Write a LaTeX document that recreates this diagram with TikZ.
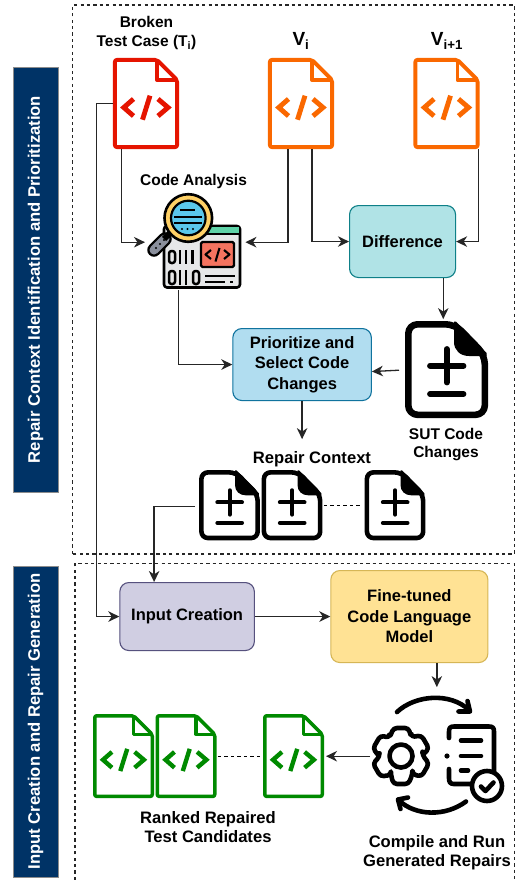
\documentclass[tikz,border=0pt]{standalone}
\usepackage{fontspec}
\setmainfont{Liberation Sans}
\usetikzlibrary{arrows.meta}
\definecolor{cred}{HTML}{E51400}
\definecolor{corange}{HTML}{FA6800}
\definecolor{cgreen}{HTML}{008A00}
\definecolor{cnavy}{HTML}{003366}
\definecolor{cdifff}{HTML}{B0E3E6}
\definecolor{cdiffd}{HTML}{0E8088}
\definecolor{cprif}{HTML}{B1DDF0}
\definecolor{cprid}{HTML}{10739E}
\definecolor{cinf}{HTML}{D0CEE2}
\definecolor{cind}{HTML}{56517E}
\definecolor{cllmf}{HTML}{FFE294}
\definecolor{cllmd}{HTML}{D6B656}
\definecolor{ilens}{HTML}{5BC8EC}
\definecolor{iring}{HTML}{FFD166}
\definecolor{ipanel}{HTML}{F4735F}
\definecolor{igreen}{HTML}{5FD3A8}
\definecolor{ihandle}{HTML}{8A8F9C}
\definecolor{iwin}{HTML}{E6E7E8}
\tikzset{
  conn/.style={line width=1.3pt,draw=black!85,-{Stealth[length=11pt,width=10.5pt,inset=3.4pt]}},
  dashconn/.style={line width=1.2pt,draw=black,dash pattern=on 3.5pt off 3pt},
  frame/.style={line width=1.2pt,draw=black!85,dash pattern=on 3.2pt off 3.2pt},
  bar/.style={draw=black!45,line width=0.6pt,fill=cnavy,text=white,font=\fontsize{16.65}{18}\selectfont\bfseries,rotate=90,inner sep=0pt,minimum width=#1,minimum height=45pt},
  procbox/.style n args={4}{draw=#2,fill=#1,line width=1.1pt,rounded corners=9pt,minimum width=#3,minimum height=#4,align=center,inner sep=0pt,anchor=north west,font=\fontsize{16.5}{20.5}\selectfont\bfseries},
  lbl/.style={align=center,inner sep=0pt,font=\fontsize{15.5}{18.5}\selectfont\bfseries},
  lblbig/.style={align=center,inner sep=0pt,font=\fontsize{16.6}{19.5}\selectfont\bfseries},
  vlbl/.style={inner sep=0pt,font=\fontsize{19}{22}\selectfont\bfseries},
}
% name, left, top, scale, colour, line width
\newcommand{\codedoc}[6]{%
  \node[anchor=north west,inner sep=0pt,minimum width={#4*66pt},minimum height={#4*91pt}] (#1) at (#2,#3) {};
  \begin{scope}[shift={(#2,#3)},scale=#4,draw=#5,line width=#6pt]
    \draw[rounded corners=2pt,line join=round] (1.9,1.9)--(44,1.9)--(64.1,22)--(64.1,89.1)--(1.9,89.1)--cycle;
    \draw[line join=round] (44,1.9)--(44,22)--(64.1,22);
    \draw[line width=#6pt*1.25] (20.5,41)--(10.8,49.5)--(20.5,58);
    \draw[line width=#6pt*1.25] (37,37.7)--(29.5,61.7);
    \draw[line width=#6pt*1.25] (45,41)--(55,49.5)--(45,58);
  \end{scope}}
% name, left, top, xscale, yscale, line width
\newcommand{\diffdoc}[6]{%
  \node[anchor=north west,inner sep=0pt,minimum width={#4*83pt},minimum height={#5*97pt}] (#1) at (#2,#3) {};
  \begin{scope}[shift={(#2,#3)},xscale=#4,yscale=#5]
    \draw[line width=#6pt,rounded corners=#6pt*1.4,line join=round] (3.3,3.3)--(50,3.3)--(79.8,34)--(79.8,93.8)--(3.3,93.8)--cycle;
    \fill (49,0.5)--(51,0.5)--(81.5,32)--(81.5,35)--(64,35)..controls (55,35) and (49,29)..(49,21)--cycle;
    \draw[line width=#6pt*0.88,line cap=round] (25,44.7)--(58.5,44.7) (41.7,28)--(41.7,61.5) (25,73)--(58.5,73);
  \end{scope}}
\begin{document}
\begin{tikzpicture}[x=1pt,y=-1pt]
\useasboundingbox (0,0) rectangle (526,880);
\fill[white] (0,0) rectangle (526,880);

% frames
\draw[frame] (72.7,554)--(72.7,5)--(514.3,5)--(514.3,554)--cycle;
\draw[frame] (75,880)--(75,563.3)--(514.3,563.3)--(514.3,880);

% side bars
\node[bar=425pt] (barA) at (35.5,279.5) {Repair Context Identification and Prioritization};
\node[bar=311pt] (barB) at (35.5,721.5) {Input Creation and Repair Generation};

% source documents
\codedoc{broken}{113}{58}{1}{cred}{3.9}
\codedoc{vi}{268}{58}{1}{corange}{3.9}
\codedoc{vnext}{413.5}{58}{1}{corange}{3.9}
\node[lbl] (lbroken) at (146.5,33) {Broken\\Test Case (T\textsubscript{i})};
\node[vlbl] (lvi) at (301,41) {V\textsubscript{i}};
\node[vlbl] (lvnext) at (447,41) {V\textsubscript{i+1}};

% code analysis icon
\node[anchor=north west,inner sep=0pt,minimum width=100pt,minimum height=96pt] (analysis) at (145,194) {};
\node[lbl] (lanalysis) at (193.5,181.5) {Code Analysis};
\begin{scope}[line join=round]
  \draw[line width=2.6pt,fill=iwin,rounded corners=3pt] (164,226)--(240,226)--(240,287.5)--(164,287.5)--cycle;
  \fill[igreen] (205,227.3)--(238.7,227.3)--(238.7,233.5)--(205,233.5)--cycle;
  \draw[line width=1.8pt] (205,234.2)--(240,234.2);
  \draw[line width=2.4pt,fill=ipanel,rounded corners=1.5pt] (201,242)--(234,242)--(234,267)--(201,267)--cycle;
  \draw[line width=2.1pt] (211,250)--(205.5,254.5)--(211,259);
  \draw[line width=2.1pt] (219.5,248)--(215.5,261.5);
  \draw[line width=2.1pt] (224,250)--(229.5,254.5)--(224,259);
  \draw[line width=2.5pt,rounded corners=2.5pt] (169,251)--(175,251)--(175,263)--(169,263)--cycle;
  \draw[line width=2.5pt] (180,250)--(180,264) (186,250)--(186,264) (192.5,250)--(192.5,264);
  \draw[line width=2.5pt,rounded corners=2.5pt] (169,271)--(175,271)--(175,284)--(169,284)--cycle;
  \draw[line width=2.5pt] (180,270)--(180,284.5) (186,270)--(186,284.5);
  \draw[line width=2.5pt,rounded corners=2.5pt] (193,271)--(199,271)--(199,284)--(193,284)--cycle;
  \draw[line width=2pt] (205,275.5)--(235,275.5) (205,282)--(225,282) (230,282)--(233,282);
  \draw[line width=13.5pt,line cap=round] (154,250)--(165,239);
  \draw[line width=9pt,line cap=round,draw=ihandle] (154,250)--(165,239);
  \draw[line width=6pt] (164,239)--(173,230);
  \fill[black] (156,248) circle[radius=1.2pt] (160,244) circle[radius=1.2pt] (164,240) circle[radius=1.2pt];
  \draw[line width=2.6pt,fill=iring] (188.3,218) circle[radius=23.8pt];
  \draw[line width=2.2pt,fill=ilens] (188.3,218) circle[radius=17.3pt];
  \draw[line width=2pt] (180,210.2)--(195,210.2) (174,216.7)--(202,216.7) (174,222.7)--(202,222.7);
  \fill[black] (182,229) circle[radius=1.2pt] (187.5,229) circle[radius=1.2pt] (193,229) circle[radius=1.2pt];
\end{scope}

% process boxes
\node[procbox={cdifff}{cdiffd}{106pt}{72pt}] (difference) at (349,205) {Difference};
\node[procbox={cprif}{cprid}{138.5pt}{72pt}] (prioritize) at (232.3,328) {Prioritize and\\Select Code\\Changes};
\node[procbox={cinf}{cind}{134.5pt}{68pt}] (input) at (119.3,582) {Input Creation};
\node[procbox={cllmf}{cllmd}{157pt}{92pt}] (llm) at (330.3,570) {Fine-tuned\\Code Language\\Model};

% change documents
\node[anchor=north west,inner sep=0pt,minimum width=89pt,minimum height=100pt] (sut) at (399,318) {};
\diffdoc{sutdoc}{405}{321}{1}{1}{6.6}
\node[lbl] (lsut) at (446,444.5) {SUT Code\\Changes};
\node[lblbig] (lrepair) at (312,459.5) {Repair Context};
\diffdoc{rc1}{199}{470}{0.735}{0.725}{4.6}
\diffdoc{rc2}{261.5}{470}{0.735}{0.725}{4.6}
\diffdoc{rc3}{364.5}{470}{0.735}{0.725}{4.6}

% ranked candidates
\codedoc{gc1}{93}{714}{0.925}{cgreen}{3.5}
\codedoc{gc2}{155.5}{714}{0.925}{cgreen}{3.5}
\codedoc{gc3}{263}{714}{0.925}{cgreen}{3.5}
\node[lblbig] (lranked) at (208,827) {Ranked Repaired\\Test Candidates};

% compile and run icon
\node[anchor=north west,inner sep=0pt,minimum width=135pt,minimum height=120pt] (compile) at (370,696) {};
\node[lblbig] (lcompile) at (437,852.5) {Compile and Run\\Generated Repairs};
\begin{scope}[line width=4.6pt,line cap=round,line join=round]
  \draw (397,712) .. controls (415,695) and (450,692) .. (469,710);
  \draw (467.5,701)--(470,711.5)--(458.5,711.5);
  \draw (466,801.5) .. controls (445,817) and (415,816) .. (398.5,800);
  \draw (408,797.5)--(398,799.5)--(400.5,809);
  \begin{scope}[shift={(401,756)}]
    \draw[rounded corners=3.5pt] (-2:21.5)
      \foreach \a in {30,90,150,210,270,330} { -- ({\a-32}:21.5) -- ({\a-15}:29) -- ({\a+15}:29) -- ({\a+28}:21.5) } -- cycle;
    \draw (0,0) circle[radius=11.5pt];
  \end{scope}
  \draw (449,738) -- (449,732) .. controls (449,728) and (450,726.5) .. (454,726.5) -- (489,726.5) .. controls (493,726.5) and (494,728) .. (494,732) -- (494,775);
  \draw (449,769) -- (449,778) .. controls (449,782) and (450,784) .. (454,784) -- (472,784);
  \fill (447,756) circle[radius=2.6pt];
  \draw (461,740.5)--(481,740.5) (461,756)--(481,756) (461,770.5)--(468,770.5);
  \draw[fill=white] (487,786) circle[radius=15pt];
  \draw (481,786.5)--(485.5,791)--(493.5,782.5);
\end{scope}

% connectors
\draw[conn] ([xshift=-25pt]broken.south) |- (analysis.west);
\draw[conn] ([xshift=-13.3pt]vi.south) |- (analysis.east);
\draw[conn] ([xshift=10.7pt]vi.south) |- (difference.west);
\draw[conn] ([xshift=32pt]vnext.south) |- (difference.east);
\draw[conn] ([xshift=40.7pt]difference.south) -- ++(0,41);
\draw[conn] ([xshift=-17pt]analysis.south) |- (prioritize.west);
\draw[conn] ([yshift=-2pt]sut.west) -- ([yshift=-7pt]prioritize.east);
\draw[conn] (prioritize.south) -- ++(0,38);
\draw[conn] (broken.west) -- ++(-16.3,0) |- (input.west);
\draw[conn] ([shift={(-4pt,-1pt)}]rc1.west) -| ([xshift=-33pt]input.north);
\draw[conn] (input.east) -- (input.east -| llm.west);
\draw[conn] ([xshift=27.5pt]llm.south) -- ++(0,24);
\draw[conn] (compile.west) -- ++(-44,0);
\draw[dashconn] ([xshift=1pt]rc2.east) -- ([xshift=-3pt]rc3.west);
\draw[dashconn] ([xshift=1pt]gc2.east) -- ([xshift=-1pt]gc3.west);
\end{tikzpicture}
\end{document}
